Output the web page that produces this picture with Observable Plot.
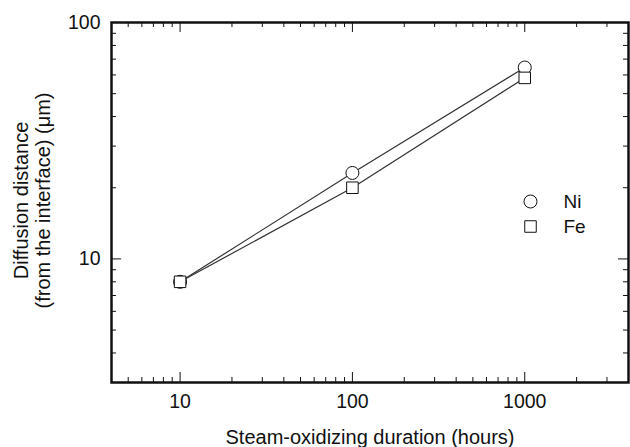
<!DOCTYPE html>
<html><head><meta charset="utf-8">
<script src="https://cdn.jsdelivr.net/npm/d3@7"></script>
<script src="https://cdn.jsdelivr.net/npm/@observablehq/plot@0.6"></script>
<style>body{margin:0;background:#fff}</style>
</head><body><div id="chart"></div>
<script>
const hours = [10, 100, 1000];
const ni = [8.0, 23.1, 64.5];
const fe = [8.0, 20.0, 58.3];
const series = ["Ni", "Fe"];
const xMajor = [10, 100, 1000];
const xMinor = [4, 5, 6, 7, 8, 9, 20, 30, 40, 50, 60, 70, 80, 90, 200, 300, 400, 500, 600, 700, 800, 900, 2000, 3000, 4000];
const yMajor = [10, 100];
const yMinor = [3, 4, 5, 6, 7, 8, 9, 20, 30, 40, 50, 60, 70, 80, 90];
const xTitle = "Steam-oxidizing duration (hours)";
const yTitle = "Diffusion distance\n(from the interface) (\u03bcm)";

const rows = hours.flatMap((h, i) => [
  {hours: h, value: ni[i], element: "Ni"},
  {hours: h, value: fe[i], element: "Fe"}
]);

const W = 630, H = 447, mL = 111, mT = 22, mR = 2, mB = 65;
const plotW = W - mL - mR, plotH = H - mT - mB;
const font = "Liberation Sans, Arial, Helvetica, sans-serif";
const ink = "#111";

const legendMarks = series.flatMap((s, i) => [
  Plot.dot([s], {frameAnchor: "left", dx: 419, dy: -1 + i * 25, symbol: d => d, r: 6.5, stroke: ink, strokeWidth: 1, fill: "white"}),
  Plot.text([s], {frameAnchor: "left", dx: 452, dy: -1 + i * 25, text: d => d, textAnchor: "start", lineAnchor: "middle", fontSize: 19, fill: ink})
]);

// inward tick marks on all four sides
function ticksX(values, len) {
  return [
    Plot.tickX(values, {x: d => d, insetTop: plotH - len, stroke: ink, strokeWidth: 1}),
    Plot.tickX(values, {x: d => d, insetBottom: plotH - len, stroke: ink, strokeWidth: 1})
  ];
}
function ticksY(values, len) {
  return [
    Plot.tickY(values, {y: d => d, insetRight: plotW - len, stroke: ink, strokeWidth: 1}),
    Plot.tickY(values, {y: d => d, insetLeft: plotW - len, stroke: ink, strokeWidth: 1})
  ];
}

const plot = Plot.plot({
  width: W, height: H,
  marginLeft: mL, marginTop: mT, marginRight: mR, marginBottom: mB,
  style: {fontFamily: font, background: "#fff", color: ink, fontSize: "19px"},
  x: {type: "log", domain: [4, 4000]},
  y: {type: "log", domain: [3, 100]},
  symbol: {domain: series, range: ["circle", "square"]},
  marks: [
    ...ticksX(xMinor, 5),
    ...ticksX(xMajor, 10),
    ...ticksY(yMinor, 5),
    ...ticksY(yMajor, 10),
    Plot.axisX(xMajor, {anchor: "bottom", tickSize: 0, tickPadding: 12, tickFormat: d => String(d), label: null, fontSize: 19.5}),
    Plot.axisY(yMajor, {anchor: "left", tickSize: 0, tickPadding: 11, tickFormat: d => String(d), label: null, fontSize: 19.5}),
    Plot.frame({stroke: ink, strokeWidth: 2.5}),
    Plot.line(rows, {x: "hours", y: "value", z: "element", stroke: "#333", strokeWidth: 1.2}),
    Plot.dot(rows, {x: "hours", y: "value", symbol: "element", r: 6.5, stroke: ink, strokeWidth: 1, fill: "white"}),
    ...legendMarks,
    Plot.text([xTitle], {frameAnchor: "bottom", dy: 55, text: d => d, textAnchor: "middle", lineAnchor: "middle", fontSize: 20, fill: ink}),
    Plot.text([yTitle], {frameAnchor: "left", dx: -80, dy: -2, text: d => d, rotate: -90, textAnchor: "middle", lineAnchor: "middle", lineHeight: 1.1, fontSize: 20, fill: ink})
  ]
});
document.getElementById("chart").append(plot);
</script>
</body></html>
